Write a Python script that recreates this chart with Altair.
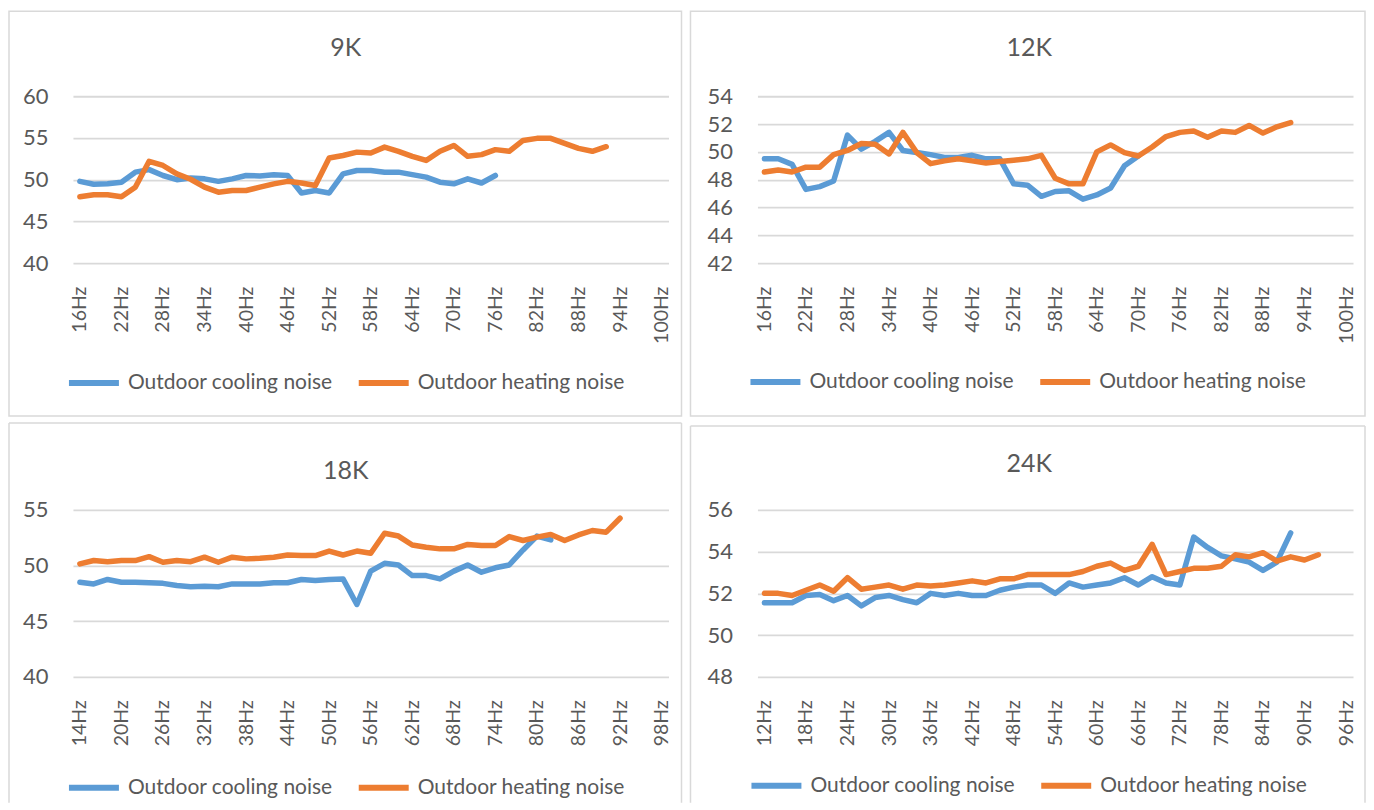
import altair as alt
import pandas as pd

SERIES = ["Outdoor cooling noise", "Outdoor heating noise"]
COLORS = ["#5B9BD5", "#ED7D31"]
TEXT = "#595959"
GRID = "#D9D9D9"
FONT = "Lato"

# ---------------- 9K ----------------
hz_cool_9k = list(range(16, 77, 2))
cool_9k = [49.8, 49.45, 49.5, 49.7, 50.9, 51.2, 50.5, 50.0, 50.2, 50.1, 49.8, 50.1,
           50.5, 50.45, 50.6, 50.5, 48.4, 48.7, 48.4, 50.7, 51.1, 51.1, 50.9, 50.9,
           50.6, 50.3, 49.7, 49.5, 50.1, 49.6, 50.5]
hz_heat_9k = list(range(16, 93, 2))
heat_9k = [47.95, 48.2, 48.2, 47.95, 49.1, 52.2, 51.7, 50.7, 50.05, 49.1, 48.5, 48.7,
           48.7, 49.1, 49.5, 49.8, 49.6, 49.3, 52.6, 52.9, 53.3, 53.2, 53.9, 53.4,
           52.8, 52.3, 53.4, 54.1, 52.8, 53.0, 53.6, 53.4, 54.7, 54.95, 54.95, 54.35,
           53.75, 53.4, 53.95]
xticks_9k = [16, 22, 28, 34, 40, 46, 52, 58, 64, 70, 76, 82, 88, 94, 100]
yticks_9k = [40, 45, 50, 55, 60]

# ---------------- 12K ----------------
hz_cool_12k = list(range(16, 71, 2))
cool_12k = [49.5, 49.5, 49.1, 47.3, 47.5, 47.9, 51.2, 50.2, 50.75, 51.4, 50.1, 49.95,
            49.8, 49.6, 49.6, 49.75, 49.5, 49.5, 47.7, 47.6, 46.8, 47.15, 47.2, 46.6,
            46.9, 47.4, 49.0, 49.7]
hz_heat_12k = list(range(16, 93, 2))
heat_12k = [48.55, 48.7, 48.55, 48.9, 48.9, 49.8, 50.1, 50.6, 50.55, 49.85, 51.4, 49.95,
            49.15, 49.35, 49.5, 49.35, 49.2, 49.3, 49.4, 49.5, 49.75, 48.1, 47.7, 47.7,
            50.0, 50.5, 49.95, 49.7, 50.35, 51.1, 51.4, 51.5, 51.05, 51.5, 51.4, 51.9,
            51.35, 51.8, 52.1]
xticks_12k = [16, 22, 28, 34, 40, 46, 52, 58, 64, 70, 76, 82, 88, 94, 100]
yticks_12k = [42, 44, 46, 48, 50, 52, 54]

# ---------------- 18K ----------------
hz_cool_18k = list(range(14, 83, 2))
cool_18k = [48.5, 48.35, 48.75, 48.5, 48.5, 48.45, 48.4, 48.2, 48.1, 48.15, 48.1, 48.35,
            48.35, 48.35, 48.45, 48.45, 48.75, 48.65, 48.75, 48.8, 46.5, 49.5, 50.2, 50.05,
            49.1, 49.1, 48.8, 49.5, 50.05, 49.4, 49.8, 50.05, 51.4, 52.65, 52.3]
hz_heat_18k = list(range(14, 93, 2))
heat_18k = [50.15, 50.45, 50.35, 50.45, 50.45, 50.8, 50.3, 50.45, 50.35, 50.75, 50.3, 50.75,
            50.6, 50.65, 50.75, 50.95, 50.9, 50.9, 51.3, 50.95, 51.3, 51.1, 52.9, 52.65,
            51.85, 51.65, 51.5, 51.5, 51.9, 51.8, 51.8, 52.6, 52.25, 52.55, 52.8, 52.25,
            52.75, 53.15, 53.0, 54.25]
xticks_18k = [14, 20, 26, 32, 38, 44, 50, 56, 62, 68, 74, 80, 86, 92, 98]
yticks_18k = [40, 45, 50, 55]

# ---------------- 24K ----------------
hz_cool_24k = list(range(12, 89, 2))
cool_24k = [51.55, 51.55, 51.55, 51.9, 51.95, 51.65, 51.9, 51.4, 51.8, 51.9, 51.7, 51.55,
            52.0, 51.9, 52.0, 51.9, 51.9, 52.15, 52.3, 52.4, 52.4, 52.0, 52.5, 52.3,
            52.4, 52.5, 52.75, 52.4, 52.8, 52.5, 52.4, 54.7, 54.2, 53.8, 53.65, 53.5,
            53.1, 53.5, 54.9]
hz_heat_24k = list(range(12, 93, 2))
heat_24k = [52.0, 52.0, 51.9, 52.15, 52.4, 52.1, 52.75, 52.2, 52.3, 52.4, 52.2, 52.4,
            52.35, 52.4, 52.5, 52.6, 52.5, 52.7, 52.7, 52.9, 52.9, 52.9, 52.9, 53.05,
            53.3, 53.45, 53.1, 53.3, 54.35, 52.9, 53.05, 53.2, 53.2, 53.3, 53.85, 53.75,
            53.95, 53.55, 53.75, 53.6, 53.85]
xticks_24k = [12, 18, 24, 30, 36, 42, 48, 54, 60, 66, 72, 78, 84, 90, 96]
yticks_24k = [48, 50, 52, 54, 56]

W, H = 596, 167
ONE = pd.DataFrame({"k": [0]})


def panel(title, hz_c, cool, hz_h, heat, xdom, xticks, yticks, title_xy, frame, legend_xy, open_bottom):
    rows = [{"hz": h, "db": v, "series": SERIES[0]} for h, v in zip(hz_c, cool)]
    rows += [{"hz": h, "db": v, "series": SERIES[1]} for h, v in zip(hz_h, heat)]
    df = pd.DataFrame(rows)

    lines = alt.Chart(df).mark_line(strokeWidth=5.5, strokeCap="round", strokeJoin="round").encode(
        x=alt.X("hz:Q", title=None,
                scale=alt.Scale(domain=xdom, nice=False, zero=False),
                axis=alt.Axis(values=xticks, labelExpr="datum.value + 'Hz'", labelAngle=270,
                              grid=False, ticks=False, tickSize=0, domain=False,
                              labelPadding=23, labelFontSize=19.5, labelFont=FONT,
                              labelColor=TEXT, labelOverlap=False)),
        y=alt.Y("db:Q", title=None,
                scale=alt.Scale(domain=[yticks[0], yticks[-1]], nice=False, zero=False),
                axis=alt.Axis(values=yticks, grid=True, gridColor=GRID, gridWidth=1.8,
                              ticks=False, tickSize=0, domain=False, labelPadding=25,
                              labelFontSize=22, labelFont=FONT, labelColor=TEXT)),
        color=alt.Color("series:N",
                        scale=alt.Scale(domain=SERIES, range=COLORS),
                        legend=alt.Legend(title=None, orient="none", legendX=legend_xy[0],
                                          legendY=legend_xy[1], direction="horizontal",
                                          symbolType="stroke", symbolStrokeWidth=6,
                                          symbolSize=2500, labelFont=FONT, labelFontSize=21,
                                          labelColor=TEXT, labelOffset=6, columnPadding=14,
                                          labelLimit=0, padding=0)),
    )

    ttl = alt.Chart(pd.DataFrame({"t": [title]})).mark_text(
        font=FONT, fontSize=25, color=TEXT, align="center", baseline="middle"
    ).encode(text="t:N", x=alt.value(title_xy[0]), y=alt.value(title_xy[1]))

    x0, x1, y0, y1 = frame
    if not open_bottom:
        frm = [alt.Chart(ONE).mark_rect(fill="transparent", stroke=GRID, strokeWidth=1.5).encode(
            x=alt.value(x0), x2=alt.value(x1), y=alt.value(y0), y2=alt.value(y1))]
    else:
        base = alt.Chart(ONE).mark_rule(color=GRID, strokeWidth=1.5)
        frm = [
            base.encode(x=alt.value(x0), y=alt.value(y0), y2=alt.value(y1)),
            base.encode(x=alt.value(x1), y=alt.value(y0), y2=alt.value(y1)),
            base.encode(x=alt.value(x0), x2=alt.value(x1), y=alt.value(y0)),
        ]
    return alt.layer(*frm, lines, ttl).properties(width=W, height=H)


p1 = panel("9K", hz_cool_9k, cool_9k, hz_heat_9k, heat_9k, [15, 101], xticks_9k, yticks_9k,
           (273, -48), (-64, 609, -85, 320), (-7, 259), False)
p2 = panel("12K", hz_cool_12k, cool_12k, hz_heat_12k, heat_12k, [15, 101], xticks_12k, yticks_12k,
           (272, -48), (-67, 608, -85, 320), (-10, 258), False)
p3 = panel("18K", hz_cool_18k, cool_18k, hz_heat_18k, heat_18k, [13, 99], xticks_18k, yticks_18k,
           (273, -39), (-64, 609, -87, 293), (-7, 250), True)
p4 = panel("24K", hz_cool_24k, cool_24k, hz_heat_24k, heat_24k, [11, 97], xticks_24k, yticks_24k,
           (272, -46), (-67, 608, -84, 293), (-9, 248), True)

chart = alt.concat(
    p1, p2, p3, p4, columns=2, spacing={"row": 247, "column": 89}, bounds="flush"
).resolve_scale(
    color="independent", x="independent", y="independent"
).resolve_legend(
    color="independent"
).properties(
    padding={"left": 0, "top": 2, "right": 0, "bottom": 0}, background="white"
).configure_view(strokeWidth=0)

chart.save("out.html", embed_options={"renderer": "svg", "actions": False})
